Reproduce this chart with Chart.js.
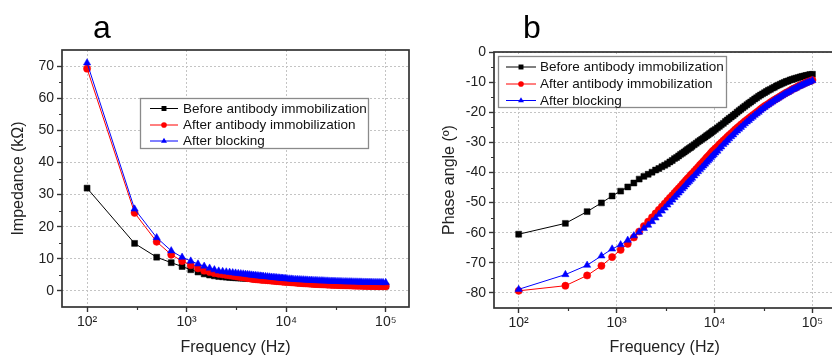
<!DOCTYPE html>
<html lang="en">
<head>
<meta charset="UTF-8">
<title>Impedance and phase angle</title>
<script src="https://cdn.jsdelivr.net/npm/chart.js@4.4.1/dist/chart.umd.min.js"></script>
<style>
    html, body{
        margin: 0;
        padding: 0;
        background: #fff;
        overflow: hidden;
    }
    body{
        position: relative;
        width: 832px;
        height: 357px;
    }
    .panel{
        position: absolute;
        top: 0;
        height: 357px;
    }
    #pa{ left: 0; width: 416px; }
    #pb{ left: 420px; width: 420px; }
</style>
</head>
<body>
<div class="panel" id="pa"><canvas id="chartA"></canvas></div>
<div class="panel" id="pb"><canvas id="chartB"></canvas></div>
<script>
// frequencies (Hz) of the measured points
const freq = [100,300,500,700,900,1100,1300,1500,1700,1900,2100,
    2300,2500,2700,2900,3100,3300,3500,3700,3900,4100,4300,4500,4700,4900,5100,5300,5500,5700,5900,
    6200,6500,6800,7100,7400,7700,8000,8300,8600,8900,9200,9500,9800,
    10200,10700,11200,11700,12300,12900,13500,14100,14800,15500,16200,17000,17800,18600,19500,20400,21400,22400,23400,24500,25700,26900,28200,29500,30900,
    32400,33900,35500,37200,39000,40800,42800,44800,46900,49100,51400,53900,56400,59100,61900,64800,67900,71100,74500,78000,81700,85600,89600,93900,99900];

const seriesNames = ['Before antibody immobilization', 'After antibody immobilization', 'After blocking'];

// panel a: impedance (kOhm)
const zBefore = [32.0,14.8,10.5,8.8,7.6,6.6,5.9,5.3,4.95,4.7,4.5,
    4.4,4.3,4.2,4.15,4.1,4.05,4.0,3.97,3.95,3.92,3.9,3.85,3.8,3.74,3.68,3.64,3.6,3.55,3.51,
    3.46,3.4,3.35,3.3,3.25,3.2,3.16,3.11,3.07,3.03,2.99,2.95,2.92,
    2.88,2.83,2.77,2.72,2.66,2.61,2.56,2.52,2.47,2.43,2.39,2.35,2.31,2.27,2.24,2.2,2.17,2.14,2.11,2.08,2.05,2.02,1.99,1.96,1.94,
    1.91,1.89,1.87,1.85,1.83,1.81,1.79,1.77,1.75,1.73,1.71,1.69,1.68,1.66,1.65,1.63,1.62,1.6,1.59,1.58,1.57,1.56,1.55,1.54,1.53];
const zAfterAb = [69.2,24.3,15.3,11.3,9.3,8.0,7.0,6.3,5.9,5.5,5.3,
    5.12,4.96,4.81,4.67,4.54,4.42,4.31,4.2,4.1,4.0,3.91,3.81,3.72,3.66,3.6,3.56,3.52,3.47,3.43,
    3.38,3.32,3.27,3.22,3.17,3.12,3.08,3.03,2.99,2.95,2.91,2.87,2.84,
    2.8,2.75,2.69,2.64,2.58,2.53,2.48,2.44,2.39,2.35,2.31,2.27,2.23,2.19,2.16,2.12,2.09,2.06,2.03,2.0,1.97,1.94,1.91,1.88,1.86,
    1.83,1.81,1.79,1.77,1.75,1.73,1.71,1.69,1.67,1.65,1.63,1.61,1.6,1.58,1.57,1.55,1.54,1.52,1.51,1.5,1.49,1.48,1.47,1.46,1.45];
const zBlocked = [71.0,25.5,16.6,12.5,10.5,9.3,8.4,7.7,7.1,6.6,6.2,
    6.05,5.92,5.8,5.68,5.57,5.46,5.37,5.28,5.19,5.11,5.03,4.95,4.88,4.82,4.76,4.7,4.65,4.6,4.55,
    4.49,4.42,4.35,4.29,4.23,4.18,4.12,4.07,4.02,3.98,3.93,3.89,3.85,
    3.8,3.75,3.7,3.66,3.61,3.57,3.53,3.5,3.46,3.42,3.39,3.35,3.32,3.29,3.26,3.23,3.2,3.17,3.15,3.12,3.09,3.07,3.04,3.02,3.0,
    2.97,2.95,2.93,2.91,2.89,2.87,2.85,2.84,2.82,2.8,2.79,2.77,2.76,2.74,2.73,2.71,2.7,2.69,2.68,2.66,2.65,2.64,2.63,2.62,2.61];

// panel b: phase angle (degrees)
const phBefore = [-60.5,-56.9,-53.0,-50.1,-47.8,-46.2,-44.8,-43.5,-42.2,-41.3,-40.6,
    -39.9,-39.2,-38.7,-38.1,-37.6,-37.1,-36.5,-36.0,-35.4,-35.0,-34.5,-34.0,-33.6,-33.2,-32.8,-32.4,-32.0,-31.7,-31.3,
    -30.8,-30.3,-29.8,-29.4,-29.0,-28.6,-28.2,-27.8,-27.5,-27.1,-26.8,-26.4,-26.1,
    -25.7,-25.2,-24.7,-24.2,-23.7,-23.1,-22.6,-22.1,-21.6,-21.1,-20.6,-20.0,-19.5,-19.0,-18.5,-18.0,-17.5,-17.0,-16.6,-16.1,-15.6,-15.2,-14.7,-14.3,-13.9,
    -13.5,-13.1,-12.7,-12.4,-12.0,-11.7,-11.3,-11.0,-10.7,-10.4,-10.1,-9.8,-9.6,-9.3,-9.1,-8.9,-8.7,-8.5,-8.3,-8.1,-8.0,-7.8,-7.7,-7.5,-7.4];
const phAfterAb = [-79.3,-77.6,-74.2,-71.0,-68.1,-65.7,-63.7,-61.6,-59.6,-57.8,-56.3,
    -54.9,-53.6,-52.4,-51.3,-50.3,-49.3,-48.4,-47.6,-46.8,-46.0,-45.3,-44.6,-43.9,-43.3,-42.6,-42.0,-41.5,-40.9,-40.4,
    -39.6,-38.9,-38.2,-37.5,-36.9,-36.3,-35.7,-35.1,-34.6,-34.1,-33.5,-33.0,-32.6,
    -32.0,-31.4,-30.7,-30.1,-29.4,-28.8,-28.2,-27.6,-27.0,-26.4,-25.8,-25.2,-24.7,-24.1,-23.6,-23.0,-22.5,-22.0,-21.5,-21.0,-20.5,-20.0,-19.5,-19.0,-18.5,
    -18.0,-17.6,-17.2,-16.7,-16.3,-15.9,-15.5,-15.1,-14.7,-14.3,-13.9,-13.5,-13.2,-12.8,-12.4,-12.1,-11.8,-11.4,-11.1,-10.8,-10.5,-10.2,-9.9,-9.7,-9.3];
const phBlocked = [-78.8,-73.9,-70.8,-67.7,-65.4,-64.0,-62.5,-61.0,-59.8,-58.6,-57.5,
    -56.3,-55.1,-53.9,-52.8,-51.8,-50.8,-49.9,-49.1,-48.3,-47.5,-46.8,-46.1,-45.4,-44.8,-44.1,-43.5,-43.0,-42.4,-41.9,
    -41.1,-40.4,-39.7,-39.0,-38.4,-37.8,-37.2,-36.6,-36.1,-35.6,-35.0,-34.5,-34.1,
    -33.5,-32.9,-32.1,-31.5,-30.7,-30.1,-29.4,-28.8,-28.1,-27.5,-26.8,-26.2,-25.6,-25.0,-24.4,-23.8,-23.2,-22.7,-22.1,-21.6,-21.0,-20.5,-20.0,-19.4,-18.9,
    -18.4,-17.9,-17.5,-17.0,-16.6,-16.1,-15.7,-15.3,-14.9,-14.5,-14.1,-13.7,-13.4,-13.0,-12.6,-12.3,-12.0,-11.6,-11.3,-11.0,-10.7,-10.4,-10.1,-9.9,-9.5];

// axis ticks
const xTicks = [100, 1000, 10000, 100000];
const xMinor = [316.23, 3162.3, 31623];
const zTicks = [0, 10, 20, 30, 40, 50, 60, 70];
const zMinor = [5, 15, 25, 35, 45, 55, 65];
const phTicks = [0, -10, -20, -30, -40, -50, -60, -70, -80];
const phMinor = [-5, -15, -25, -35, -45, -55, -65, -75];

const FONT = "'Liberation Sans', Arial, sans-serif";
const colors = ['#000000', '#ff0000', '#0000ff'];
const styles = ['rect', 'circle', 'triangle'];
const radii = [4.2, 3.6, 4.2];
const sup = {2: '\u00b2', 3: '\u00b3', 4: '\u2074', 5: '\u2075'};

function makeSets(lists){
    return lists.map((vals, i) => ({
        label: seriesNames[i],
        data: freq.map((f, k) => ({x: f, y: vals[k]})),
        borderColor: colors[i],
        backgroundColor: colors[i],
        pointBackgroundColor: colors[i],
        pointBorderColor: colors[i],
        pointStyle: styles[i],
        pointRadius: radii[i],
        pointBorderWidth: 0.5,
        borderWidth: 1,
        tension: 0,
        order: 2 - i
    }));
}

function marker(ctx, style, x, y, r, color){
    ctx.fillStyle = color;
    ctx.beginPath();
    if (style === 'rect'){
        const s = r * 0.75;
        ctx.rect(x - s, y - s, 2 * s, 2 * s);
    } else if (style === 'circle'){
        ctx.arc(x, y, r * 0.85, 0, Math.PI * 2);
    } else {
        ctx.moveTo(x, y - r);
        ctx.lineTo(x + r * 0.9, y + r * 0.55);
        ctx.lineTo(x - r * 0.9, y + r * 0.55);
        ctx.closePath();
    }
    ctx.fill();
}

// frame, minor ticks, panel letter and legend box
const decor = {
    id: 'decor',
    afterDraw(chart, args, o){
        const {ctx, chartArea: a, scales} = chart;
        ctx.save();
        ctx.strokeStyle = '#333';
        ctx.lineWidth = 1.2;
        ctx.beginPath();
        o.yMinor.forEach(v => {
            const y = Math.round(scales.y.getPixelForValue(v)) + 0.5;
            ctx.moveTo(a.left - 3, y); ctx.lineTo(a.left, y);
        });
        xMinor.forEach(v => {
            const x = Math.round(scales.x.getPixelForValue(v)) + 0.5;
            ctx.moveTo(x, a.bottom); ctx.lineTo(x, a.bottom + 3);
        });
        ctx.stroke();
        ctx.lineWidth = 1.7;
        ctx.strokeRect(a.left, a.top, a.right - a.left, a.bottom - a.top);

        ctx.fillStyle = '#000';
        ctx.font = '32px ' + FONT;
        ctx.textAlign = 'center';
        ctx.textBaseline = 'alphabetic';
        ctx.fillText(o.letter, o.letterX, 38);

        // legend
        const L = o.legend;
        ctx.fillStyle = '#fff';
        ctx.fillRect(L.x, L.y, L.w, L.h);
        ctx.strokeStyle = '#8a8a8a';
        ctx.lineWidth = 1.3;
        ctx.strokeRect(L.x + 0.5, L.y + 0.5, L.w, L.h);
        ctx.font = '13.5px ' + FONT;
        ctx.textAlign = 'left';
        ctx.textBaseline = 'middle';
        seriesNames.forEach((name, i) => {
            const y = L.rows[i];
            ctx.strokeStyle = colors[i];
            ctx.lineWidth = 1;
            ctx.beginPath();
            ctx.moveTo(L.x1, y + 0.5); ctx.lineTo(L.x2, y + 0.5);
            ctx.stroke();
            marker(ctx, styles[i], (L.x1 + L.x2) / 2, y + 0.5, 3.3, colors[i]);
            ctx.fillStyle = '#111';
            ctx.fillText(name, L.tx, y + 1);
        });
        ctx.restore();
    }
};

function makeChart(id, sets, yMin, yMax, yTicks, yTitle, cfg){
    return new Chart(document.getElementById(id), {
        type: 'line',
        data: {datasets: sets},
        plugins: [decor],
        options: {
            responsive: true,
            maintainAspectRatio: false,
            animation: false,
            layout: {padding: {top: cfg.top, right: cfg.right, left: 0, bottom: 0}},
            plugins: {
                legend: {display: false},
                tooltip: {enabled: false},
                decor: cfg.decor
            },
            scales: {
                x: {
                    type: 'logarithmic',
                    min: 56,
                    max: 171000,
                    afterBuildTicks: s => { s.ticks = xTicks.map(v => ({value: v})); },
                    afterFit: s => { s.height = cfg.xh; },
                    ticks: {
                        autoSkip: false,
                        maxRotation: 0,
                        padding: 2,
                        color: '#222',
                        font: {family: FONT, size: 14},
                        callback: v => '10' + sup[Math.round(Math.log10(v))]
                    },
                    grid: {color: '#c4c4c4', lineWidth: 1, tickLength: 5, tickColor: '#333', tickWidth: 1.4},
                    border: {display: false, dash: [2, 2]},
                    title: {display: true, text: 'Frequency (Hz)', color: '#222',
                        font: {family: FONT, size: 16}, padding: {top: 0, bottom: 0}}
                },
                y: {
                    min: yMin,
                    max: yMax,
                    afterBuildTicks: s => { s.ticks = yTicks.map(v => ({value: v})); },
                    afterFit: s => { s.width = cfg.yw; },
                    ticks: {padding: 3, color: '#222', font: {family: FONT, size: 14}},
                    grid: {color: '#c4c4c4', lineWidth: 1, tickLength: 5, tickColor: '#333', tickWidth: 1.4},
                    border: {display: false, dash: [2, 2]},
                    title: {display: true, text: yTitle, color: '#222',
                        font: {family: FONT, size: 16}, padding: {top: cfg.ytp, bottom: 0}}
                }
            }
        }
    });
}

makeChart('chartA', makeSets([zBefore, zAfterAb, zBlocked]), -5, 75, zTicks, 'Impedance (k\u03a9)', {
    top: 50, right: 7, xh: 50, yw: 62, ytp: 9,
    decor: {
        yMinor: zMinor, letter: 'a', letterX: 102,
        legend: {x: 140, y: 98, w: 228, h: 50, rows: [108, 124.5, 140.5], x1: 150, x2: 178, tx: 183}
    }
});

makeChart('chartB', makeSets([phBefore, phAfterAb, phBlocked]), -85, 0, phTicks, 'Phase angle (\u00ba)', {
    top: 52, right: 3, xh: 49, yw: 74, ytp: 20,
    decor: {
        yMinor: phMinor, letter: 'b', letterX: 112,
        legend: {x: 78, y: 56, w: 228, h: 51, rows: [66.5, 83.5, 100], x1: 86, x2: 116, tx: 120}
    }
});
</script>
</body>
</html>
